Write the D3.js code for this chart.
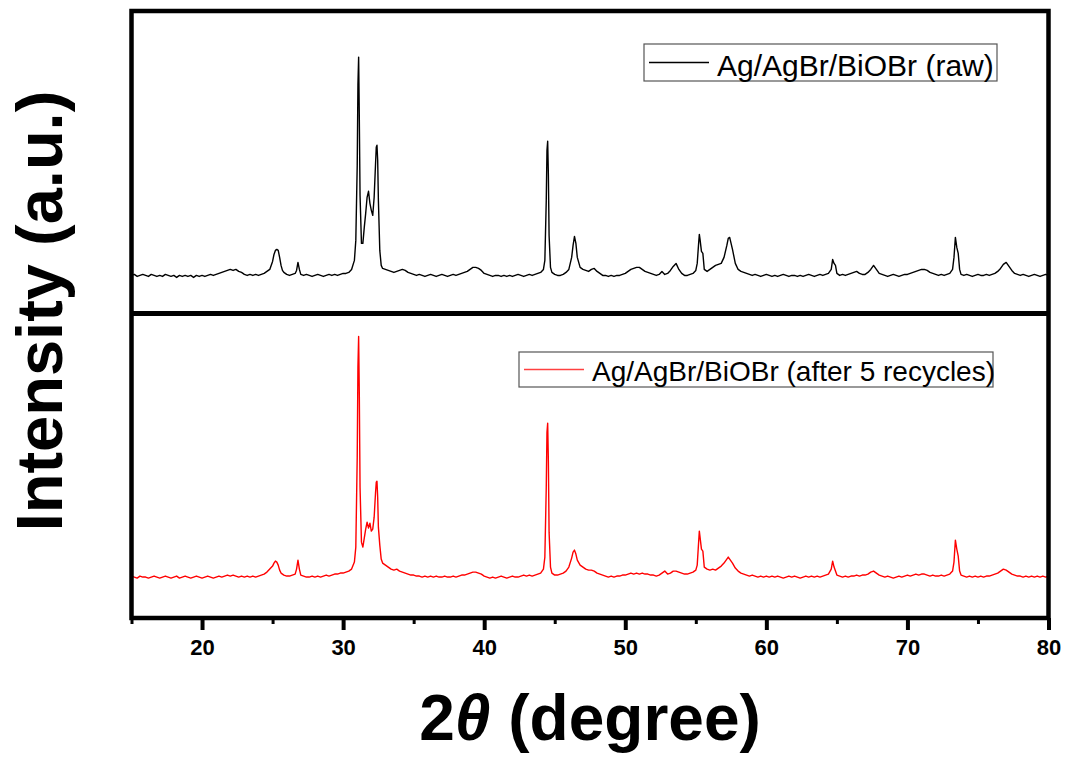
<!DOCTYPE html>
<html>
<head>
<meta charset="utf-8">
<script src="https://cdn.jsdelivr.net/npm/d3@7"></script>
<style>
  html, body { margin: 0; padding: 0; background: #fff; }
  svg { display: block; }
</style>
</head>
<body>
<svg id="chart" width="1065" height="764"></svg>
<script>
// 2θ sampling grid shared by both diffraction patterns (finer steps across sharp reflections)
const twoTheta = [
  15.0,15.2,15.4,15.6,15.8,16.0,16.2,16.4,16.6,16.8,
  17.0,17.2,17.4,17.6,17.8,18.0,18.2,18.4,18.6,18.8,
  19.0,19.2,19.4,19.6,19.8,20.0,20.2,20.4,20.6,20.8,
  21.0,21.2,21.4,21.6,21.8,22.0,22.2,22.4,22.6,22.8,
  23.0,23.2,23.4,23.6,23.8,24.0,24.2,24.4,24.6,24.8,
  25.0,25.1,25.2,25.3,25.4,25.5,25.6,25.7,25.8,26.0,
  26.2,26.4,26.6,26.7,26.8,26.9,27.0,27.2,27.4,27.6,
  27.8,28.0,28.2,28.4,28.6,28.8,29.0,29.2,29.4,29.6,
  29.8,30.0,30.2,30.4,30.6,30.8,30.9,31.0,31.05,31.1,
  31.15,31.2,31.3,31.4,31.5,31.6,31.7,31.8,31.9,32.0,
  32.1,32.2,32.3,32.35,32.4,32.45,32.5,32.6,32.7,32.8,
  33.0,33.2,33.4,33.6,33.8,34.0,34.2,34.4,34.6,34.8,
  35.0,35.2,35.4,35.6,35.8,36.0,36.2,36.4,36.6,36.8,
  37.0,37.2,37.4,37.6,37.8,38.0,38.2,38.4,38.6,38.8,
  39.0,39.2,39.4,39.6,39.8,40.0,40.2,40.4,40.6,40.8,
  41.0,41.2,41.4,41.6,41.8,42.0,42.2,42.4,42.6,42.8,
  43.0,43.2,43.4,43.6,43.8,44.0,44.2,44.3,44.4,44.45,
  44.5,44.55,44.6,44.7,44.8,45.0,45.2,45.4,45.6,45.8,
  46.0,46.2,46.3,46.4,46.5,46.6,46.8,47.0,47.2,47.4,
  47.6,47.8,48.0,48.2,48.4,48.6,48.8,49.0,49.2,49.4,
  49.6,49.8,50.0,50.2,50.4,50.6,50.8,51.0,51.2,51.4,
  51.6,51.8,52.0,52.2,52.4,52.6,52.8,53.0,53.2,53.4,
  53.6,53.8,54.0,54.2,54.4,54.6,54.8,55.0,55.1,55.2,
  55.25,55.3,55.4,55.5,55.6,55.8,56.0,56.2,56.4,56.6,
  56.8,57.0,57.2,57.3,57.4,57.6,57.8,58.0,58.2,58.4,
  58.6,58.8,59.0,59.2,59.4,59.6,59.8,60.0,60.2,60.4,
  60.6,60.8,61.0,61.2,61.4,61.6,61.8,62.0,62.2,62.4,
  62.6,62.8,63.0,63.2,63.4,63.6,63.8,64.0,64.2,64.4,
  64.6,64.7,64.8,64.9,65.0,65.2,65.4,65.6,65.8,66.0,
  66.2,66.4,66.6,66.8,67.0,67.2,67.4,67.6,67.8,68.0,
  68.2,68.4,68.6,68.8,69.0,69.2,69.4,69.6,69.8,70.0,
  70.2,70.4,70.6,70.8,71.0,71.2,71.4,71.6,71.8,72.0,
  72.2,72.4,72.6,72.8,73.0,73.2,73.3,73.4,73.5,73.6,
  73.7,73.8,74.0,74.2,74.4,74.6,74.8,75.0,75.2,75.4,
  75.6,75.8,76.0,76.2,76.4,76.6,76.8,77.0,77.2,77.4,
  77.6,77.8,78.0,78.2,78.4,78.6,78.8,79.0,79.2,79.4,
  79.6,79.8,80.0
];

// Intensity (a.u.) of the as-prepared Ag/AgBr/BiOBr
const rawIntensity = [
  100,101,99,100,101,100,99,101,100,99,
  100,99,101,100,99,100,98,100,99,100,
  99,100,98,100,99,100,99,100,101,100,
  101,102,103,104,105,106,105,106,104,103,
  101,100,101,100,101,100,101,102,104,106,
  114,121,125,126,125,118,110,105,103,101,
  100,101,102,105,113,106,101,100,101,100,
  99,100,101,100,99,100,101,100,101,100,
  101,102,102,103,106,115,135,210,290,318,
  255,180,132,132,148,162,178,184,172,165,
  160,178,212,228,230,215,175,125,110,107,
  106,105,104,103,104,105,106,105,103,102,
  101,100,101,100,99,100,101,100,99,100,
  101,100,99,100,101,100,101,102,103,104,
  106,108,108,107,105,102,101,100,99,100,
  100,99,100,99,100,99,100,101,100,99,
  100,101,100,101,102,103,106,115,175,225,
  234,200,140,108,103,101,100,100,101,103,
  106,118,130,139,132,118,108,106,105,104,
  106,107,104,102,100,100,99,100,99,100,
  100,101,102,104,106,107,108,108,106,104,
  103,102,101,100,101,104,101,102,105,109,
  112,106,102,100,100,101,102,105,112,132,
  141,136,124,122,106,104,106,108,110,111,
  112,118,130,137,138,126,112,106,104,103,
  102,101,100,101,100,99,100,101,100,99,
  100,99,100,101,100,99,100,100,99,100,
  99,100,101,100,99,100,101,100,101,102,
  106,116,112,110,102,100,101,100,101,102,
  103,104,102,101,101,103,106,110,106,102,
  101,100,99,100,101,100,99,100,101,101,
  102,103,104,105,106,106,105,103,102,101,
  100,101,100,101,102,106,118,138,128,122,
  106,101,100,101,100,99,100,101,100,100,
  101,100,101,102,104,107,111,113,109,105,
  102,101,100,101,100,99,100,101,100,99,
  100,101,100
];

// Intensity (a.u.) after five photocatalytic cycles
const recycledIntensity = [
  101,100,99,101,100,100,99,100,101,100,
  99,100,101,100,99,100,101,99,100,101,
  100,99,100,101,100,99,100,101,100,99,
  100,101,100,101,102,101,102,101,100,101,
  100,101,100,101,100,101,102,103,105,108,
  111,114,116,115,112,107,104,103,102,101,
  101,102,103,108,117,108,102,101,100,100,
  101,100,101,100,101,102,101,102,103,103,
  104,104,105,106,108,115,130,220,310,341,
  280,190,135,130,139,148,155,149,154,146,
  148,160,185,195,196,180,150,132,118,114,
  112,110,108,107,108,106,105,104,103,102,
  102,101,101,100,101,100,101,100,101,100,
  100,101,100,100,101,100,101,102,102,103,
  104,105,105,104,103,101,100,99,100,99,
  100,101,100,99,100,101,100,100,101,102,
  101,102,101,102,103,104,108,120,190,245,
  254,215,145,110,104,102,102,103,104,106,
  110,119,125,127,123,117,112,110,108,107,
  107,106,104,103,102,101,100,101,100,101,
  101,102,102,103,104,103,104,103,104,103,
  103,102,102,101,102,104,106,103,104,106,
  106,105,104,103,103,104,105,107,112,135,
  146,140,128,126,110,108,107,108,107,109,
  111,114,118,120,118,114,109,106,104,103,
  102,101,102,101,100,101,100,101,100,101,
  100,101,100,99,100,101,100,101,100,99,
  100,101,100,101,100,101,100,101,102,103,
  108,116,110,106,102,101,100,101,100,101,
  101,102,101,102,102,103,105,106,104,102,
  101,100,101,100,99,100,101,100,101,102,
  101,102,103,102,103,103,102,101,102,101,
  101,102,101,102,103,106,115,137,128,121,
  106,102,101,100,101,100,101,100,101,100,
  101,101,102,103,104,106,108,107,105,103,
  102,101,101,100,101,100,101,100,101,100,
  101,100,101
];

const seriesLabels = ["Ag/AgBr/BiOBr (raw)", "Ag/AgBr/BiOBr (after 5 recycles)"];
const seriesColors = ["#000000", "#ff0000"];
const majorTicks = [20, 30, 40, 50, 60, 70, 80];
const minorTicks = [15, 25, 35, 45, 55, 65, 75];

const svg = d3.select("#chart");
const FONT = "'Liberation Sans', Arial, Helvetica, sans-serif";

const left = 131.5, right = 1048.5;
const topPanel = { y0: 11, y1: 313.5 };
const botPanel = { y0: 313.5, y1: 618 };

const x = d3.scaleLinear().domain([15, 80]).range([left, right]);
const yTop = d3.scaleLinear().domain([62, 364]).range([topPanel.y1, topPanel.y0]);
const yBot = d3.scaleLinear().domain([59, 364]).range([botPanel.y1, botPanel.y0]);

const rawPoints = twoTheta.map((t, i) => [t, rawIntensity[i]]);
const recPoints = twoTheta.map((t, i) => [t, recycledIntensity[i]]);

// Diffraction traces
const lineTop = d3.line().x(d => x(d[0])).y(d => yTop(d[1]));
const lineBot = d3.line().x(d => x(d[0])).y(d => yBot(d[1]));

svg.append("path").datum(rawPoints)
  .attr("d", lineTop).attr("fill", "none")
  .attr("stroke", seriesColors[0]).attr("stroke-width", 1.4)
  .attr("stroke-linejoin", "round");

svg.append("path").datum(recPoints)
  .attr("d", lineBot).attr("fill", "none")
  .attr("stroke", seriesColors[1]).attr("stroke-width", 1.4)
  .attr("stroke-linejoin", "round");

// Bottom axis: labelled major ticks and unlabelled minor ticks
const majorAxis = d3.axisBottom(x).tickValues(majorTicks).tickSize(12).tickPadding(9)
  .tickFormat(d3.format("d"));
const minorAxis = d3.axisBottom(x).tickValues(minorTicks).tickSize(6).tickFormat("");

const gMinor = svg.append("g").attr("transform", `translate(0,${botPanel.y1})`).call(minorAxis);
gMinor.select(".domain").remove();
gMinor.selectAll(".tick line").attr("stroke", "#000").attr("stroke-width", 3);

const gMajor = svg.append("g").attr("transform", `translate(0,${botPanel.y1})`).call(majorAxis);
gMajor.select(".domain").remove();
gMajor.selectAll(".tick line").attr("stroke", "#000").attr("stroke-width", 4);
gMajor.selectAll(".tick text")
  .attr("font-family", FONT).attr("font-weight", "bold")
  .attr("font-size", 22).attr("fill", "#000");

// Panel frames
const frame = svg.append("g").attr("fill", "none").attr("stroke", "#000");
frame.append("rect")
  .attr("x", left).attr("y", topPanel.y0)
  .attr("width", right - left).attr("height", botPanel.y1 - topPanel.y0)
  .attr("stroke-width", 4.5);
frame.append("line")
  .attr("x1", left).attr("x2", right)
  .attr("y1", topPanel.y1).attr("y2", topPanel.y1)
  .attr("stroke-width", 5);

// Legends
function legend(label, color, box, fontSize, baseline) {
  const g = svg.append("g");
  g.append("rect")
    .attr("x", box.x).attr("y", box.y).attr("width", box.w).attr("height", box.h)
    .attr("fill", "#fff").attr("stroke", "#555").attr("stroke-width", 1.2);
  g.append("line")
    .attr("x1", box.x + 5).attr("x2", box.x + 65)
    .attr("y1", box.y + box.h / 2).attr("y2", box.y + box.h / 2)
    .attr("stroke", color).attr("stroke-width", 1.3);
  g.append("text")
    .attr("x", box.x + 73).attr("y", box.y + baseline)
    .attr("font-family", FONT).attr("font-size", fontSize).attr("fill", "#000")
    .text(label);
}
legend(seriesLabels[0], seriesColors[0], { x: 644, y: 44, w: 353, h: 37 }, 30, 32);
legend(seriesLabels[1], "#ff4040", { x: 519, y: 352, w: 474, h: 35 }, 28, 29);

// Axis titles
svg.append("text")
  .attr("x", (left + right) / 2).attr("y", 740)
  .attr("text-anchor", "middle")
  .attr("font-family", FONT).attr("font-weight", "bold").attr("font-size", 64)
  .call(t => {
    t.append("tspan").text("2");
    t.append("tspan").attr("font-style", "italic").text("θ");
    t.append("tspan").text(" (degree)");
  });

svg.append("text")
  .attr("transform", "translate(62,311) rotate(-90)")
  .attr("text-anchor", "middle")
  .attr("font-family", FONT).attr("font-weight", "bold").attr("font-size", 65)
  .text("Intensity (a.u.)");
</script>
</body>
</html>
